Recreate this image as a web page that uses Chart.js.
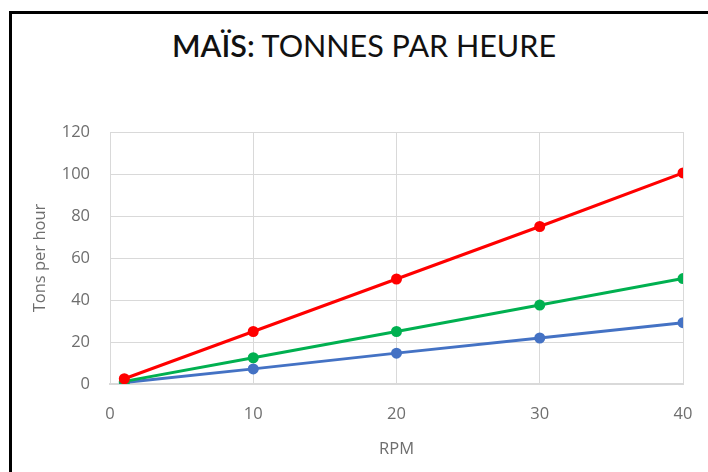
<!DOCTYPE html>
<html>
<head>
<meta charset="utf-8">
<script src="https://cdn.jsdelivr.net/npm/chart.js@4/dist/chart.umd.min.js"></script>
<style>
  html, body { margin: 0; padding: 0; background: #fff; overflow: hidden; }
  #wrap { position: relative; width: 708px; height: 472px; overflow: hidden; }
  #frame { position: absolute; left: 9px; top: 11px; width: 900px; height: 700px;
           border-top: 3px solid #000; border-left: 3px solid #000; box-sizing: border-box; }
  #title { position: absolute; left: 0; width: 708px; top: 27px; text-align: center;
           font-family: Lato, sans-serif; font-size: 30.5px; color: #111; white-space: nowrap;
           padding-left: 20px; box-sizing: border-box; }
  #title b { font-weight: 600; }
  canvas { position: absolute; left: 0; top: 0; }
</style>
</head>
<body>
<div id="wrap">
  <div id="frame"></div>
  <div id="title"><b>MAÏS:</b> TONNES PAR HEURE</div>
  <canvas id="c" width="708" height="472"></canvas>
</div>
<script>
// Speed in revolutions per minute
const rpm = [1, 10, 20, 30, 40];
// Throughput (tons per hour) for each machine size
const redSeries   = [2.5, 25, 50, 75, 100.5];
const greenSeries = [1.25, 12.5, 25, 37.6, 50.2];
const blueSeries  = [0.7, 7.2, 14.7, 21.9, 29.2];

const xTitle = 'RPM';
const yTitle = 'Tons per hour';

const toPoints = ys => rpm.map((x, i) => ({ x: x, y: ys[i] }));

const tickFont = { family: "'Open Sans', sans-serif", size: 16.5, weight: '400' };
const gray = '#6e6e6e';
const gridColor = '#d9d9d9';

const mk = (data, color) => ({
  data: toPoints(data),
  borderColor: color,
  backgroundColor: color,
  borderWidth: 3,
  pointRadius: 5.5,
  pointHoverRadius: 5.5,
  pointBorderWidth: 0,
  tension: 0
});

new Chart(document.getElementById('c'), {
  type: 'line',
  data: {
    datasets: [
      mk(redSeries, '#ff0000'),
      mk(greenSeries, '#00b050'),
      mk(blueSeries, '#4472c4')
    ]
  },
  options: {
    responsive: false,
    animation: false,
    layout: { padding: { left: 10, right: 25, top: 132, bottom: 0 } },
    plugins: { legend: { display: false }, title: { display: false }, tooltip: { enabled: false } },
    scales: {
      x: {
        type: 'linear', min: 0, max: 40,
        ticks: { stepSize: 10, color: gray, font: tickFont, padding: 20 },
        grid: { color: gridColor, lineWidth: 1, drawTicks: false },
        border: { color: gridColor, width: 2 },
        title: { display: true, text: xTitle, color: gray, font: tickFont, padding: { bottom: 13 } },
        afterFit: s => { s.height = 88; s.paddingLeft = 0; s.paddingRight = 0; }
      },
      y: {
        min: 0, max: 120,
        ticks: { stepSize: 20, color: gray, font: tickFont, padding: 20 },
        grid: { color: gridColor, lineWidth: 1, drawTicks: false },
        border: { color: gridColor, width: 1 },
        title: { display: true, text: yTitle, color: gray, font: tickFont, padding: { top: 20 } },
        afterFit: s => { s.width = 100; }
      }
    }
  }
});
</script>
</body>
</html>
